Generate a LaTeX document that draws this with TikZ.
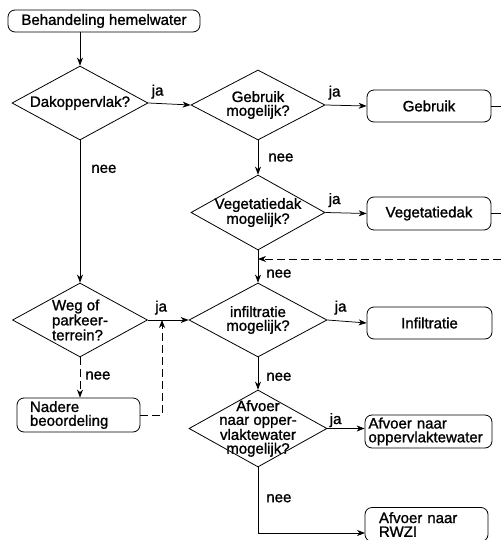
\documentclass[tikz,border=0pt]{standalone}
\usepackage{fontspec}
\setmainfont{Liberation Sans}[FakeBold=1.2]
\usetikzlibrary{shapes.geometric,arrows.meta}
\begin{document}
\begin{tikzpicture}[x=1pt,y=-1pt,
  every node/.style={font=\fontsize{15}{13.8}\selectfont},
  box/.style={draw, rounded corners=7pt, line width=0.8pt, inner sep=0pt},
  lbox/.style={box, align=left, inner ysep=1pt},
  dia/.style={draw, diamond, line width=0.8pt, inner sep=-30pt, align=center},
  lab/.style={inner sep=0pt},
  ln/.style={line width=0.75pt},
  arr/.style={ln, -{Stealth[length=8pt,width=6pt,inset=2.5pt]}},
  dsh/.style={dash pattern=on 8pt off 4pt}
]
\useasboundingbox (0,0) rectangle (501,540);
\clip (0,0) rectangle (501,540);

% boxes
\node[box, minimum width=192pt, minimum height=22pt] (start) at (104,21) {Behandeling hemelwater};
\node[box, minimum width=124pt, minimum height=32pt] (b1) at (429,106) {Gebruik};
\node[box, minimum width=124pt, minimum height=33pt] (b2) at (429,213.5) {Vegetatiedak};
\node[box, minimum width=125pt, minimum height=32pt] (b3) at (429.5,323) {Infiltratie};
\node[lbox, text width=120pt, inner xsep=3.5pt, minimum height=33pt] (b4) at (428.5,431.5) {Afvoer naar\\oppervlaktewater};
\node[lbox, text width=95pt, inner xsep=14pt, minimum height=34pt] (b5) at (426.5,524.5) {Afvoer naar\\RWZI};
\node[lbox, text width=97pt, inner xsep=13pt, minimum height=34pt] (b6) at (78.5,415) {Nadere\\beoordeling};

% diamonds
\node[dia, minimum width=136pt, minimum height=74pt] (d1) at (80,103) {Dakoppervlak?};
\node[dia, minimum width=134pt, minimum height=70pt] (d2) at (258,105) {Gebruik\\mogelijk?};
\node[dia, minimum width=134pt, minimum height=75pt] (d3) at (258,212.5) {Vegetatiedak\\mogelijk?};
\node[dia, minimum width=135pt, minimum height=74pt, align=left] (d4) at (80,320) {Weg of\\parkeer-\\terrein?};
\node[dia, minimum width=138pt, minimum height=74pt] (d5) at (258,320) {infiltratie\\mogelijk?};
\node[dia, minimum width=138pt, minimum height=77pt] (d6) at (258,428.5) {Afvoer\\naar opper-\\vlaktewater\\mogelijk?};

% free ends
\coordinate (e1) at (501,106);
\coordinate (e2) at (501,213.5);
\coordinate (dr) at (501,259);
\coordinate (dj) at (258,259);
\coordinate (nj) at (162,320);
\coordinate (rc) at (258,533);
\coordinate (rw) at (365,533);

% connectors
\draw[arr] (d1.north |- start.south) -- (d1.north);
\draw[arr] (d1.east) -- node[lab, pos=0, anchor=south west, xshift=3pt, yshift=4pt]{ja} (d2.west);
\draw[arr] (d2.east) -- node[lab, pos=0, anchor=south west, xshift=3pt, yshift=5pt]{ja} (b1.west);
\draw[ln] (b1.east) -- (e1);
\draw[arr] (d2.south) -- node[lab, pos=0.5, right, xshift=10pt]{nee} (d3.north);
\draw[arr] (d3.east) -- node[lab, pos=0, anchor=south west, xshift=3pt, yshift=5pt]{ja} (b2.west);
\draw[ln] (b2.east) -- (e2);
\draw[arr, dsh] (dr) -- (dj);
\draw[arr] (d3.south) -- node[lab, pos=0.72, right, xshift=8pt]{nee} (d5.north);
\draw[arr] (d1.south) -- node[lab, pos=0.2, right, xshift=11pt]{nee} (d4.north);
\draw[arr] (d4.east) -- node[lab, pos=0, anchor=south west, xshift=7pt, yshift=5pt]{ja} (d5.west);
\draw[arr, dsh] (d4.south) -- node[lab, pos=0.45, right, xshift=5pt]{nee} (d4.south |- b6.north);
\draw[arr, dsh] (b6.east) -| (nj);
\draw[arr] (d5.east) -- node[lab, pos=0, anchor=south west, xshift=7pt, yshift=5pt]{ja} (b3.west);
\draw[arr] (d5.south) -- node[lab, pos=0.6, right, xshift=8pt]{nee} (d6.north);
\draw[arr] (d6.east) -- node[lab, pos=0, anchor=south west, xshift=2pt, yshift=1pt]{ja} (b4.west |- d6.east);
\draw[arr] (d6.south) -- node[lab, pos=0.47, right, xshift=8pt]{nee} (rc) -- (rw);
\end{tikzpicture}
\end{document}
